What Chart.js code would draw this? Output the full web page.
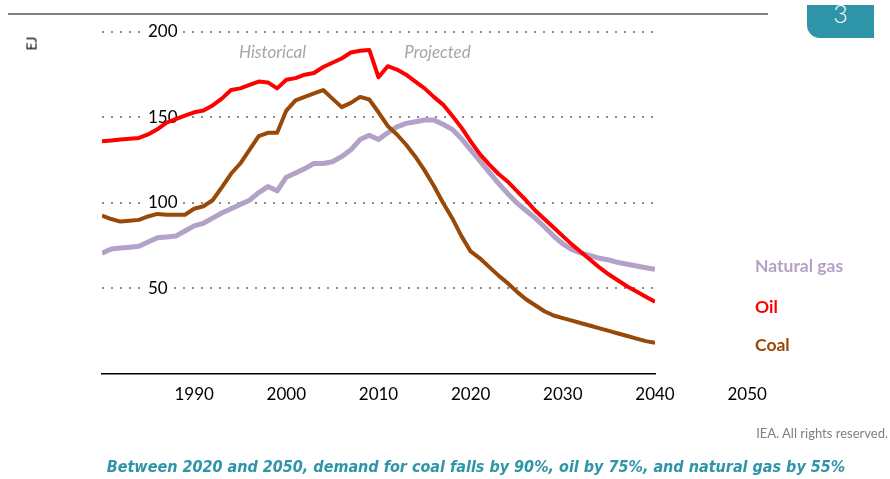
<!DOCTYPE html>
<html>
<head>
<meta charset="utf-8">
<script src="https://cdn.jsdelivr.net/npm/chart.js@4/dist/chart.umd.min.js"></script>
<style>
  html, body { margin: 0; padding: 0; background: #fff; }
  #wrap { position: relative; width: 890px; height: 479px; overflow: hidden; font-family: Lato, sans-serif; }
  #chartBox { position: absolute; left: 0; top: 0; width: 890px; height: 479px; }
  .topline { position: absolute; left: 8px; top: 13px; width: 760px; height: 2px; background: #7f7f7f; }
  .badge { position: absolute; left: 807px; top: 5px; width: 67px; height: 33px; background: #2e95a8;
           border-bottom-left-radius: 13px; overflow: hidden; color: #fff; font-size: 25px; font-weight: 300;
           text-align: center; line-height: 16px; }
  .unit { position: absolute; left: 24px; top: 35px; font-size: 14px; color: #000; transform: rotate(-90deg); transform-origin: 50% 50%; }
  .lbl { position: absolute; left: 755px; font-size: 17.5px; font-weight: bold; white-space: nowrap; }
  .credit { position: absolute; right: 2px; top: 425px; font-size: 13px; color: #7f7f7f; }
  .caption { position: absolute; left: 0; width: 952px; top: 457px; text-align: center; color: #2e95a8;
             font-family: "Liberation Sans Narrow", "DejaVu Sans Condensed", sans-serif; font-size: 16px;
             font-weight: bold; font-style: italic; white-space: nowrap; }
</style>
</head>
<body>
<div id="wrap">
  <div id="chartBox"><canvas id="lineChart"></canvas></div>
  <div class="topline"></div>
  <div class="badge">3</div>
  <div class="unit">EJ</div>
  <div class="lbl" style="top:255px;color:#b3a2c7;">Natural gas</div>
  <div class="lbl" style="top:296px;color:#ff0000;">Oil</div>
  <div class="lbl" style="top:334px;color:#984807;">Coal</div>
  <div class="credit">IEA. All rights reserved.</div>
  <div class="caption">Between 2020 and 2050, demand for coal falls by 90%, oil by 75%, and natural gas by 55%</div>
</div>
<script>
var years = [1980, 1981, 1982, 1983, 1984, 1985, 1986, 1987, 1988, 1989,
  1990, 1991, 1992, 1993, 1994, 1995, 1996, 1997, 1998, 1999,
  2000, 2001, 2002, 2003, 2004, 2005, 2006, 2007, 2008, 2009,
  2010, 2011, 2012, 2013, 2014, 2015, 2016, 2017, 2018, 2019,
  2020, 2021, 2022, 2023, 2024, 2025, 2026, 2027, 2028, 2029,
  2030, 2031, 2032, 2033, 2034, 2035, 2036, 2037, 2038, 2039, 2040];

var oil = [136, 136.5, 137, 137.5, 138, 140, 143, 147, 149, 151,
  153, 154, 157, 161, 166, 167, 169, 171, 170.5, 167,
  172, 173, 175, 176, 179.5, 182, 184.5, 188, 189, 189.5,
  173.5, 180, 178, 175, 171, 167, 162, 157.5, 151, 144,
  136, 128.5, 122.5, 117, 112.5, 107, 101.5, 95.5, 90.5, 85.5,
  80.5, 75.5, 71, 66.5, 62, 58, 54.5, 51, 48, 45, 42];

var coal = [92.5, 90.5, 89, 89.5, 90, 92, 93.5, 93, 93, 93,
  96.5, 98, 101.5, 109, 117, 123, 131, 139, 141, 141,
  154, 160, 162, 164, 166, 161, 156, 158.5, 162, 160.5,
  153, 145, 140, 134, 127, 119, 110, 100, 91, 80.5,
  71.5, 67.5, 62.5, 57.5, 53, 48, 43.5, 40, 36.5, 34,
  32.5, 31, 29.5, 28, 26.5, 25, 23.5, 22, 20.5, 19, 18];

var gas = [70.5, 73, 73.5, 74, 74.5, 77, 79.5, 80, 80.5, 83.5,
  86.5, 88, 91, 94, 96.5, 99, 101.5, 106, 109.5, 107,
  115, 117.5, 120, 123, 123, 124, 127, 131, 137, 139.5,
  137, 141, 144.5, 146.5, 147.5, 148.5, 148.5, 146, 143, 137.5,
  131, 124.5, 118, 111.5, 105.5, 100, 95.5, 91, 86, 80.5,
  76, 72.5, 70.5, 69, 67.5, 66.5, 65, 64, 63, 62, 61];

var xTicks = [1990, 2000, 2010, 2020, 2030, 2040, 2050];
var yTicks = [50, 100, 150, 200];

function toPoints(vals) {
  return vals.map(function (v, i) { return { x: years[i], y: v }; });
}

// "Historical" / "Projected" notes over the lines
var periodNotes = {
  id: 'periodNotes',
  afterDatasetsDraw: function (chart) {
    var ctx = chart.ctx, xs = chart.scales.x, ys = chart.scales.y;
    ctx.save();
    ctx.font = 'italic 17px Lato';
    ctx.fillStyle = '#a6a6a6';
    ctx.textAlign = 'center';
    ctx.textBaseline = 'middle';
    ctx.fillText('Historical', xs.getPixelForValue(1998.5), ys.getPixelForValue(188));
    ctx.fillText('Projected', xs.getPixelForValue(2016.4), ys.getPixelForValue(188));
    ctx.restore();
  }
};

Chart.defaults.font.family = 'Lato';

var ctx = document.getElementById('lineChart');
var lineChart = new Chart(ctx, {
  type: 'line',
  data: {
    datasets: [{
      label: 'Oil',
      data: toPoints(oil),
      borderColor: '#ff0000',
      borderWidth: 4
    }, {
      label: 'Coal',
      data: toPoints(coal),
      borderColor: '#984807',
      borderWidth: 4
    }, {
      label: 'Natural gas',
      data: toPoints(gas),
      borderColor: '#b3a2c7',
      borderWidth: 5
    }]
  },
  options: {
    responsive: true,
    maintainAspectRatio: false,
    animation: false,
    events: [],
    elements: {
      point: { radius: 0 },
      line: { tension: 0, borderJoinStyle: 'round', borderCapStyle: 'butt' }
    },
    layout: { padding: { left: 102, right: 235, top: 32, bottom: 63 } },
    plugins: {
      legend: { display: false },
      tooltip: { enabled: false }
    },
    scales: {
      x: {
        type: 'linear',
        min: 1980,
        max: 2040,
        afterBuildTicks: function (scale) {
          scale.ticks = xTicks.map(function (v) { return { value: v }; });
        },
        ticks: {
          color: '#000',
          font: { size: 17 },
          padding: 11,
          maxRotation: 0,
          autoSkip: false,
          callback: function (v) { return String(v); }
        },
        grid: { display: false, drawTicks: false },
        border: { display: true, color: '#000', width: 1.5 }
      },
      y: {
        min: 0,
        max: 200,
        afterBuildTicks: function (scale) {
          scale.ticks = yTicks.map(function (v) { return { value: v }; });
        },
        afterFit: function (scale) {
          scale.width = 0;
          scale.paddingTop = 0;
          scale.paddingBottom = 0;
        },
        ticks: {
          mirror: true,
          padding: 46,
          color: '#000',
          font: { size: 17 },
          showLabelBackdrop: true,
          backdropColor: '#fff',
          backdropPadding: { x: 2, y: 0 },
          callback: function (v) { return String(v); }
        },
        grid: { color: '#8c8c8c', lineWidth: 2, drawTicks: false },
        border: { display: false, dash: [2, 7] }
      }
    }
  },
  plugins: [periodNotes]
});
</script>
</body>
</html>
